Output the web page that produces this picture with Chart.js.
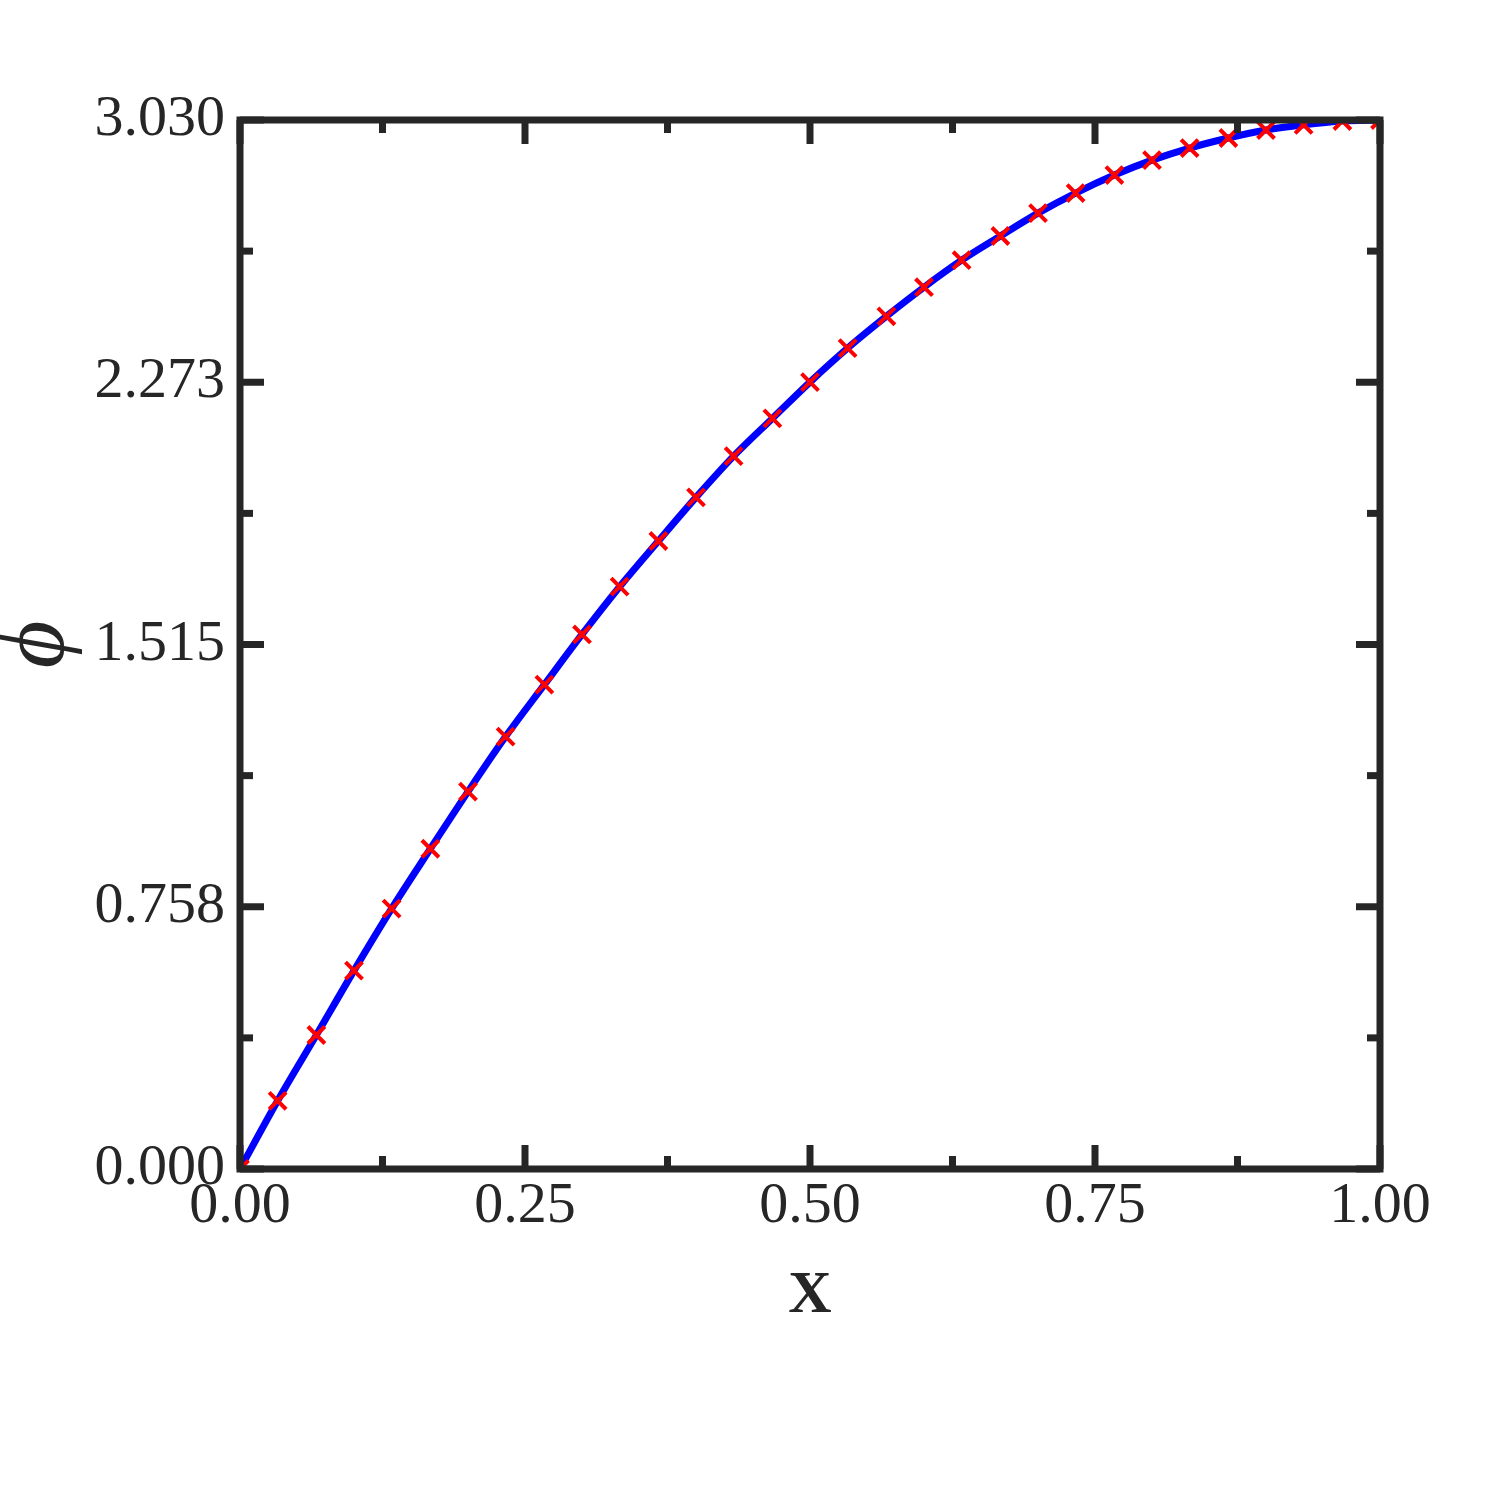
<!DOCTYPE html>
<html lang="en">
<head>
  <meta charset="UTF-8" />
  <title>phi vs x</title>
  <script src="https://cdn.jsdelivr.net/npm/chart.js"></script>
  <style>
    html, body { margin: 0; padding: 0; background: #fff; }
    #wrap { width: 1500px; height: 1500px; }
  </style>
</head>
<body>
  <div id="wrap"><canvas id="phiChart" width="1500" height="1500"></canvas></div>

  <script>
    // values
    const xValues = [0, 0.033, 0.067, 0.1, 0.133, 0.167, 0.2, 0.233, 0.267, 0.3, 0.333,
      0.367, 0.4, 0.433, 0.467, 0.5, 0.533, 0.567, 0.6, 0.633, 0.667,
      0.7, 0.733, 0.767, 0.8, 0.833, 0.867, 0.9, 0.933, 0.967, 1];
    const phiValues = [0, 0.197, 0.387, 0.573, 0.752, 0.925, 1.090, 1.249, 1.399, 1.544, 1.682,
      1.814, 1.940, 2.059, 2.168, 2.273, 2.371, 2.463, 2.547, 2.625, 2.695,
      2.761, 2.819, 2.871, 2.914, 2.949, 2.978, 3.001, 3.016, 3.027, 3.030];

    const xTicks = [0, 0.25, 0.5, 0.75, 1];
    const xTickLabels = ['0.00', '0.25', '0.50', '0.75', '1.00'];
    const xMinorTicks = [0.125, 0.375, 0.625, 0.875];
    const yTicks = [0, 0.7575, 1.515, 2.2725, 3.03];
    const yTickLabels = ['0.000', '0.758', '1.515', '2.273', '3.030'];
    const yMinorTicks = [0.37875, 1.13625, 1.89375, 2.65125];

    const axisColor = '#262626';
    const serif = '"Liberation Serif", "Times New Roman", serif';

    // frame + inward ticks on all four sides, drawn on top
    const frameTicks = {
      id: 'frameTicks',
      afterDraw(chart) {
        const { ctx, chartArea: a, scales: { x, y } } = chart;
        ctx.save();
        ctx.strokeStyle = axisColor;
        ctx.lineWidth = 7;
        ctx.lineCap = 'butt';
        const seg = (x1, y1, x2, y2) => {
          ctx.beginPath();
          ctx.moveTo(x1, y1);
          ctx.lineTo(x2, y2);
          ctx.stroke();
        };
        const xMark = (v, len) => {
          const px = x.getPixelForValue(v);
          seg(px, a.bottom, px, a.bottom - len);
          seg(px, a.top, px, a.top + len);
        };
        const yMark = (v, len) => {
          const py = y.getPixelForValue(v);
          seg(a.left, py, a.left + len, py);
          seg(a.right, py, a.right - len, py);
        };
        xTicks.forEach(v => xMark(v, 24));
        xMinorTicks.forEach(v => xMark(v, 13));
        yTicks.forEach(v => yMark(v, 24));
        yMinorTicks.forEach(v => yMark(v, 13));
        ctx.lineJoin = 'miter';
        ctx.strokeRect(a.left, a.top, a.right - a.left, a.bottom - a.top);
        ctx.restore();
      }
    };

    const ctx = document.getElementById('phiChart').getContext('2d');
    new Chart(ctx, {
      type: 'line',
      data: {
        datasets: [{
          data: xValues.map((v, i) => ({ x: v, y: phiValues[i] })),
          borderColor: '#0000ff',
          borderWidth: 7,
          cubicInterpolationMode: 'monotone',
          pointStyle: 'crossRot',
          pointRadius: 12,
          pointBorderWidth: 4,
          pointBorderColor: '#ff0000',
          pointBackgroundColor: '#ff0000'
        }]
      },
      options: {
        responsive: false,
        animation: false,
        events: [],
        layout: { padding: { top: 120, right: 120, left: 0, bottom: 0 } },
        plugins: { legend: { display: false }, tooltip: { enabled: false } },
        scales: {
          x: {
            type: 'linear',
            min: 0,
            max: 1,
            grid: { display: false, drawTicks: false },
            border: { display: false },
            afterBuildTicks: s => { s.ticks = xTicks.map(v => ({ value: v })); },
            afterFit: s => { s.height = 331; },
            ticks: {
              color: axisColor,
              padding: 3,
              maxRotation: 0,
              font: { family: serif, size: 58 },
              callback: (v) => xTickLabels[xTicks.indexOf(v)]
            },
            title: {
              display: true,
              text: 'X',
              color: axisColor,
              font: { family: serif, size: 60, weight: 'bold' },
              padding: { bottom: 168 }
            }
          },
          y: {
            type: 'linear',
            min: 0,
            max: 3.03,
            grid: { display: false, drawTicks: false },
            border: { display: false },
            afterBuildTicks: s => { s.ticks = yTicks.map(v => ({ value: v })); },
            afterFit: s => { s.width = 240; },
            ticks: {
              color: axisColor,
              padding: 15,
              font: { family: serif, size: 58 },
              callback: (v) => yTickLabels[yTicks.indexOf(v)]
            },
            title: {
              display: true,
              text: 'ϕ',
              color: axisColor,
              font: { family: serif, size: 92, style: 'italic' },
              padding: { top: -16 }
            }
          }
        }
      },
      plugins: [frameTicks]
    });
  </script>
</body>
</html>
